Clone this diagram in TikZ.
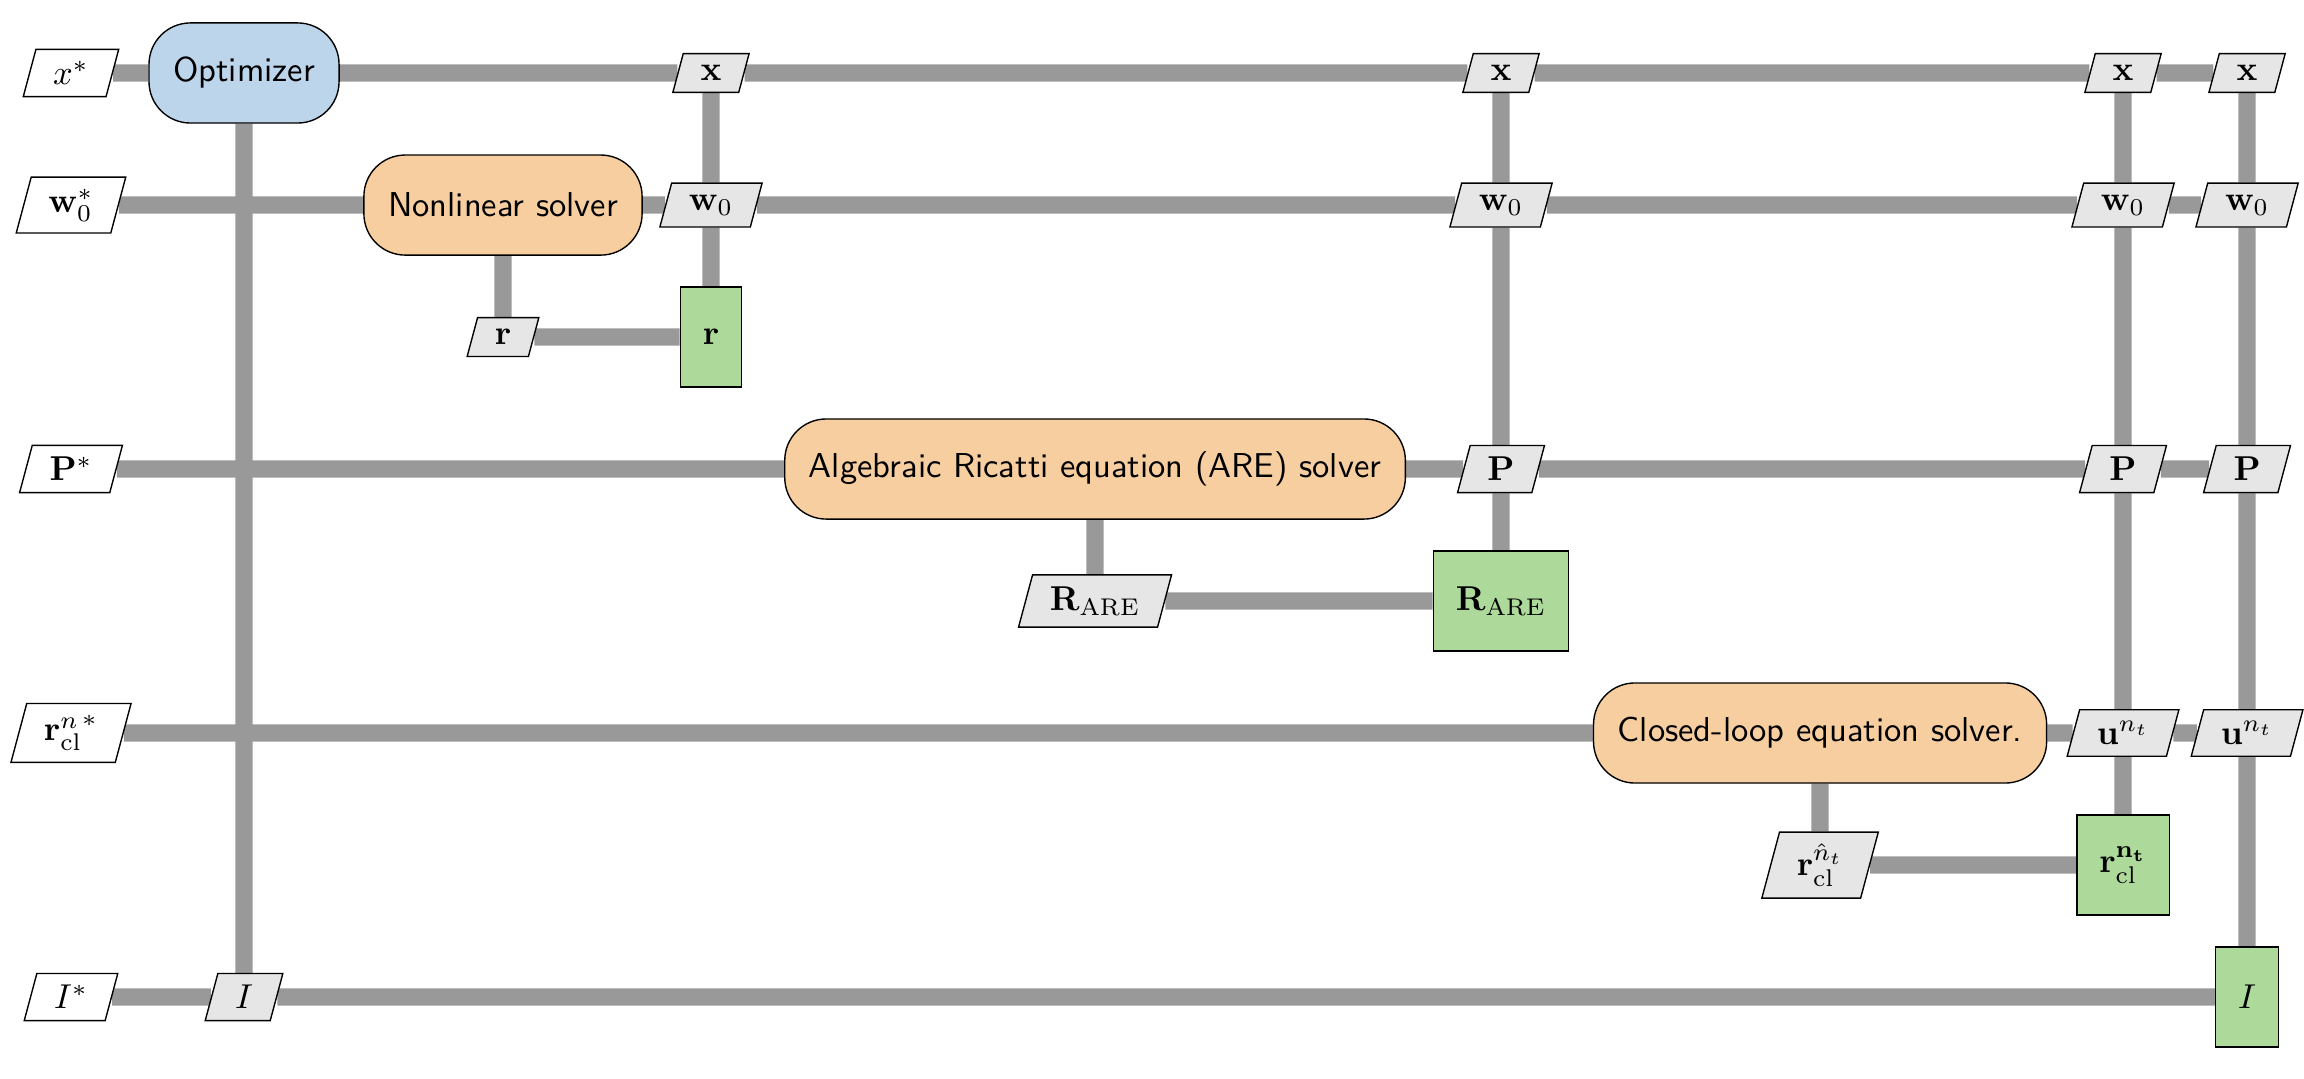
\documentclass[tikz,border=0pt]{standalone}
\usetikzlibrary{shapes.geometric,backgrounds}

\definecolor{optcolor}{RGB}{188,213,234}
\definecolor{solvercolor}{RGB}{247,206,160}
\definecolor{funccolor}{RGB}{173,217,155}
\definecolor{datacolor}{RGB}{230,230,230}
\definecolor{linecolor}{RGB}{153,153,153}

\tikzset{
    optimizer/.style={draw, fill=optcolor, rounded corners=12pt, minimum height=29pt, inner xsep=7pt, font=\sffamily},
    solver/.style={optimizer, fill=solvercolor},
    func/.style={draw, fill=funccolor, minimum height=29pt, inner xsep=6.5pt},
    datainter/.style={draw, fill=datacolor, trapezium, trapezium left angle=75, trapezium right angle=105, inner xsep=5pt, inner ysep=3.4pt},
    datainput/.style={datainter, fill=white},
    dataline/.style={draw=linecolor, line width=5pt},
}

\begin{document}
\begin{tikzpicture}
    \useasboundingbox (0,0) rectangle (23.462,-10.978);

    % inputs, left column
    \node[datainput] (xin) at (0.723,-0.743) {$x^*$};
    \node[datainput] (win) at (0.723,-2.088) {$\mathbf{w}_0^*$};
    \node[datainput] (Pin) at (0.723,-4.776) {$\mathbf{P}^*$};
    \node[datainput] (rin) at (0.723,-7.464) {${\mathbf{r}_{\mathrm{cl}}^{n}}^*$};
    \node[datainput] (Iin) at (0.723,-10.153) {$I^*$};

    % diagonal
    \node[optimizer] (opt) at (2.485,-0.743) {Optimizer};
    \node[solver] (nls) at (5.122,-2.088) {Nonlinear solver};
    \node[func] (rfun) at (7.240,-3.432) {$\mathbf{r}$};
    \node[solver] (are) at (11.151,-4.776) {Algebraic Ricatti equation (ARE) solver};
    \node[func] (Rfun) at (15.285,-6.120) {$\mathbf{R}_{\mathrm{ARE}}$};
    \node[solver] (cls) at (18.534,-7.464) {Closed-loop equation solver.};
    \node[func] (rclfun) at (21.619,-8.809) {$\mathbf{r}_{\mathrm{cl}}^{\mathbf{n_t}}$};
    \node[func] (Ifun) at (22.882,-10.153) {$I$};

    % x
    \node[datainter] (xa) at (7.240,-0.743) {$\mathbf{x}$};
    \node[datainter] (xb) at (15.285,-0.743) {$\mathbf{x}$};
    \node[datainter] (xc) at (21.619,-0.743) {$\mathbf{x}$};
    \node[datainter] (xd) at (22.882,-0.743) {$\mathbf{x}$};

    % w0
    \node[datainter] (wa) at (7.240,-2.088) {$\mathbf{w}_0$};
    \node[datainter] (wb) at (15.285,-2.088) {$\mathbf{w}_0$};
    \node[datainter] (wc) at (21.619,-2.088) {$\mathbf{w}_0$};
    \node[datainter] (wd) at (22.882,-2.088) {$\mathbf{w}_0$};

    % residuals and P
    \node[datainter] (rdat) at (5.122,-3.432) {$\mathbf{r}$};
    \node[datainter] (Pa) at (15.285,-4.776) {$\mathbf{P}$};
    \node[datainter] (Pb) at (21.619,-4.776) {$\mathbf{P}$};
    \node[datainter] (Pc) at (22.882,-4.776) {$\mathbf{P}$};
    \node[datainter] (Rdat) at (11.151,-6.120) {$\mathbf{R}_{\mathrm{ARE}}$};

    % closed loop
    \node[datainter] (ua) at (21.619,-7.464) {$\mathbf{u}^{n_t}$};
    \node[datainter] (ub) at (22.882,-7.464) {$\mathbf{u}^{n_t}$};
    \node[datainter] (rcldat) at (18.534,-8.809) {$\mathbf{r}_{\mathrm{cl}}^{\hat{n}_t}$};
    \node[datainter] (Idat) at (2.485,-10.153) {$I$};

    \begin{pgfonlayer}{background}
        % horizontal
        \draw[dataline] (xin) -- (opt) -- (xa) -- (xb) -- (xc) -- (xd);
        \draw[dataline] (win) -- (nls) -- (wa) -- (wb) -- (wc) -- (wd);
        \draw[dataline] (rdat) -- (rfun);
        \draw[dataline] (Pin) -- (are) -- (Pa) -- (Pb) -- (Pc);
        \draw[dataline] (Rdat) -- (Rfun);
        \draw[dataline] (rin) -- (cls) -- (ua) -- (ub);
        \draw[dataline] (rcldat) -- (rclfun);
        \draw[dataline] (Iin) -- (Idat) -- (Ifun);

        % vertical
        \draw[dataline] (opt) -- (Idat);
        \draw[dataline] (nls) -- (rdat);
        \draw[dataline] (xa) -- (wa) -- (rfun);
        \draw[dataline] (are) -- (Rdat);
        \draw[dataline] (xb) -- (wb) -- (Pa) -- (Rfun);
        \draw[dataline] (cls) -- (rcldat);
        \draw[dataline] (xc) -- (wc) -- (Pb) -- (ua) -- (rclfun);
        \draw[dataline] (xd) -- (wd) -- (Pc) -- (ub) -- (Ifun);
    \end{pgfonlayer}
\end{tikzpicture}
\end{document}
